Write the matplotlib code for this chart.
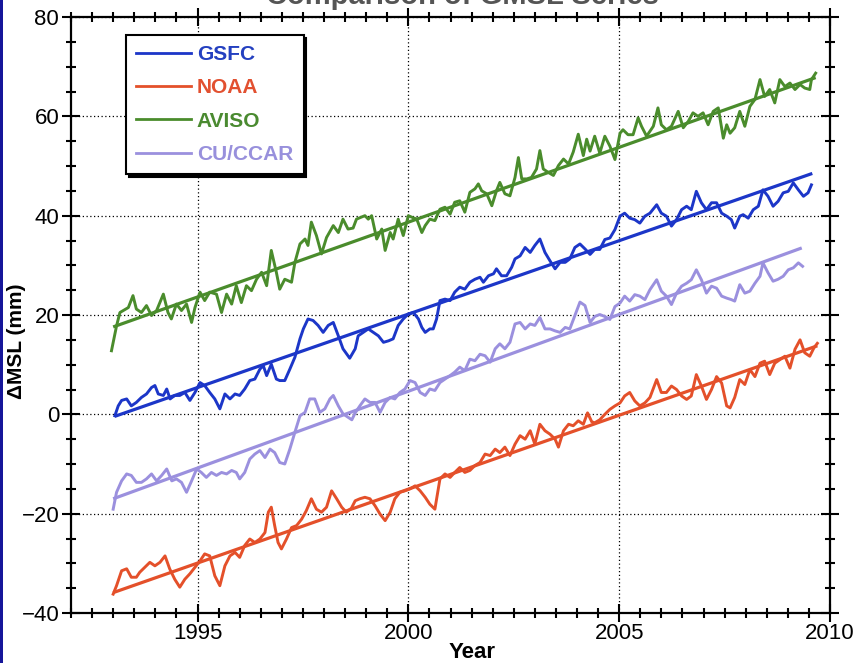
import matplotlib
matplotlib.use("Agg")
import matplotlib.pyplot as plt
from matplotlib.ticker import MultipleLocator
from matplotlib.patches import Rectangle

plt.rcParams['font.family'] = ['Liberation Sans', 'DejaVu Sans']

# ---------------- data ----------------
gsfc_year = [1993.04, 1993.12, 1993.2, 1993.32, 1993.43, 1993.55, 1993.67, 1993.79, 1993.91, 1993.99,
             1994.07, 1994.19, 1994.27, 1994.35, 1994.46, 1994.58, 1994.7, 1994.82, 1994.94, 1995.06,
             1995.17, 1995.29, 1995.41, 1995.53, 1995.65, 1995.77, 1995.89, 1996.0, 1996.12, 1996.24,
             1996.36, 1996.48, 1996.56, 1996.64, 1996.75, 1996.87, 1996.95, 1997.07, 1997.19, 1997.31,
             1997.43, 1997.51, 1997.62, 1997.74, 1997.86, 1997.98, 1998.1, 1998.22, 1998.34, 1998.45,
             1998.61, 1998.74, 1998.81, 1998.93, 1999.05, 1999.17, 1999.29, 1999.41, 1999.53, 1999.64,
             1999.76, 1999.88, 2000.0, 2000.12, 2000.24, 2000.32, 2000.4, 2000.51, 2000.59, 2000.67,
             2000.75, 2000.87, 2000.99, 2001.1, 2001.22, 2001.34, 2001.46, 2001.58, 2001.7, 2001.78,
             2001.9, 2002.02, 2002.09, 2002.21, 2002.33, 2002.45, 2002.53, 2002.65, 2002.77, 2002.89,
             2003.0, 2003.12, 2003.24, 2003.36, 2003.48, 2003.6, 2003.72, 2003.83, 2003.95, 2004.07,
             2004.19, 2004.31, 2004.42, 2004.54, 2004.66, 2004.78, 2004.9, 2005.02, 2005.13, 2005.25,
             2005.37, 2005.49, 2005.61, 2005.73, 2005.89, 2006.0, 2006.12, 2006.24, 2006.36, 2006.48,
             2006.6, 2006.71, 2006.83, 2006.95, 2007.07, 2007.19, 2007.31, 2007.43, 2007.55, 2007.66,
             2007.74, 2007.86, 2007.94, 2008.06, 2008.18, 2008.3, 2008.41, 2008.53, 2008.65, 2008.77,
             2008.89, 2009.01, 2009.13, 2009.25, 2009.37, 2009.48, 2009.56]
gsfc_msl = [-0.3, 1.7, 2.8, 3.1, 1.7, 2.4, 3.4, 4.1, 5.4, 5.8,
            4.1, 3.8, 5.1, 3.1, 3.8, 3.8, 4.4, 2.8, 4.4, 6.4,
            5.8, 4.4, 3.1, 1.1, 4.1, 3.1, 4.1, 3.8, 5.1, 6.8,
            7.1, 9.1, 9.8, 7.8, 10.1, 7.1, 6.8, 6.8, 9.1, 11.5,
            15.2, 17.2, 19.2, 18.9, 17.9, 16.5, 17.9, 18.5, 15.8, 13.2,
            11.3, 13.2, 15.8, 16.5, 17.2, 16.5, 15.8, 14.5, 14.8, 15.2,
            17.9, 19.2, 20.2, 20.5, 19.2, 17.5, 16.5, 17.2, 17.2, 19.2,
            22.9, 23.2, 22.9, 24.6, 25.6, 25.2, 26.6, 27.2, 27.6, 26.6,
            27.9, 28.3, 29.3, 27.9, 27.9, 29.6, 31.3, 31.9, 33.6, 32.6,
            34.0, 35.3, 32.6, 30.9, 29.3, 30.6, 30.6, 31.3, 33.6, 34.3,
            33.3, 32.2, 33.2, 33.2, 35.2, 35.5, 37.2, 39.9, 40.5, 39.5,
            39.2, 38.5, 39.9, 40.5, 42.2, 40.5, 39.9, 37.9, 39.2, 41.2,
            41.9, 41.2, 44.9, 42.6, 41.2, 42.6, 42.6, 40.5, 39.9, 39.2,
            37.5, 39.9, 40.2, 39.5, 41.2, 41.9, 45.2, 43.9, 41.9, 42.9,
            44.6, 44.9, 46.6, 45.2, 43.9, 44.6, 46.2]

noaa_year = [1993.0, 1993.08, 1993.2, 1993.32, 1993.43, 1993.55, 1993.63, 1993.75, 1993.87, 1993.99,
             1994.11, 1994.23, 1994.34, 1994.46, 1994.58, 1994.7, 1994.82, 1994.94, 1995.06, 1995.17,
             1995.29, 1995.41, 1995.53, 1995.65, 1995.77, 1995.89, 1996.0, 1996.12, 1996.24, 1996.36,
             1996.48, 1996.6, 1996.68, 1996.75, 1996.83, 1996.91, 1996.99, 1997.11, 1997.23, 1997.35,
             1997.47, 1997.58, 1997.7, 1997.82, 1997.94, 1998.06, 1998.18, 1998.3, 1998.42, 1998.53,
             1998.65, 1998.74, 1998.85, 1998.97, 1999.09, 1999.21, 1999.33, 1999.45, 1999.57, 1999.68,
             1999.8, 1999.92, 2000.04, 2000.16, 2000.28, 2000.4, 2000.51, 2000.63, 2000.75, 2000.87,
             2000.99, 2001.1, 2001.22, 2001.34, 2001.46, 2001.58, 2001.7, 2001.82, 2001.94, 2002.06,
             2002.17, 2002.29, 2002.41, 2002.53, 2002.65, 2002.77, 2002.89, 2003.0, 2003.12, 2003.24,
             2003.36, 2003.48, 2003.56, 2003.68, 2003.8, 2003.91, 2004.03, 2004.15, 2004.25, 2004.35,
             2004.42, 2004.54, 2004.66, 2004.78, 2004.9, 2005.02, 2005.13, 2005.25, 2005.37, 2005.49,
             2005.61, 2005.73, 2005.89, 2006.0, 2006.12, 2006.24, 2006.36, 2006.48, 2006.6, 2006.71,
             2006.83, 2006.95, 2007.07, 2007.19, 2007.31, 2007.43, 2007.55, 2007.63, 2007.74, 2007.86,
             2007.98, 2008.1, 2008.22, 2008.34, 2008.45, 2008.57, 2008.69, 2008.81, 2008.93, 2009.05,
             2009.17, 2009.29, 2009.4, 2009.52, 2009.62, 2009.7]
noaa_msl = [-36.2, -34.5, -31.5, -31.1, -32.8, -32.8, -31.8, -30.8, -29.8, -30.5,
            -29.8, -28.5, -31.1, -33.2, -34.8, -33.2, -32.1, -30.8, -29.5, -28.1,
            -28.5, -32.5, -34.5, -30.5, -28.5, -27.8, -28.8, -26.4, -25.1, -25.8,
            -25.1, -23.8, -19.7, -18.7, -22.4, -25.8, -27.1, -25.1, -22.8, -22.4,
            -21.1, -19.4, -17.0, -19.1, -19.7, -18.7, -15.4, -17.0, -18.7, -19.7,
            -18.9, -17.4, -17.0, -16.7, -17.0, -18.4, -20.1, -21.4, -19.7, -17.0,
            -15.7, -15.4, -15.0, -14.4, -15.4, -16.7, -18.1, -19.1, -13.0, -12.0,
            -12.7, -11.7, -10.7, -11.7, -11.3, -10.3, -9.7, -8.0, -8.3, -7.0,
            -7.7, -6.6, -8.3, -6.0, -4.3, -5.0, -3.3, -6.0, -2.0, -3.3,
            -4.0, -5.0, -6.6, -3.3, -2.0, -2.3, -1.3, -2.0, 0.3, -1.5,
            -1.7, -1.1, 0.0, 1.0, 1.7, 2.3, 3.7, 4.4, 2.7, 1.7,
            2.3, 3.4, 7.0, 4.4, 4.4, 5.7, 5.0, 3.7, 3.0, 3.7,
            8.0, 5.7, 3.0, 5.0, 7.6, 6.3, 1.7, 1.3, 3.4, 7.0,
            6.0, 9.0, 7.6, 10.3, 10.7, 8.0, 10.3, 11.0, 11.7, 9.3,
            13.1, 15.0, 12.4, 11.7, 13.4, 14.3]

aviso_year = [1992.96, 1993.08, 1993.16, 1993.36, 1993.47, 1993.55, 1993.67, 1993.79, 1993.91, 1994.03,
              1994.19, 1994.3, 1994.38, 1994.5, 1994.62, 1994.74, 1994.86, 1994.94, 1995.06, 1995.17,
              1995.29, 1995.45, 1995.57, 1995.69, 1995.81, 1995.92, 1996.04, 1996.16, 1996.28, 1996.4,
              1996.52, 1996.64, 1996.75, 1996.87, 1996.95, 1997.07, 1997.23, 1997.31, 1997.43, 1997.55,
              1997.62, 1997.7, 1997.82, 1997.94, 1998.06, 1998.22, 1998.34, 1998.45, 1998.57, 1998.69,
              1998.77, 1998.97, 1999.05, 1999.13, 1999.25, 1999.37, 1999.45, 1999.57, 1999.64, 1999.76,
              1999.88, 2000.0, 2000.08, 2000.2, 2000.32, 2000.4, 2000.51, 2000.63, 2000.75, 2000.87,
              2000.99, 2001.1, 2001.22, 2001.34, 2001.46, 2001.58, 2001.66, 2001.74, 2001.86, 2001.98,
              2002.09, 2002.17, 2002.29, 2002.41, 2002.53, 2002.61, 2002.69, 2002.81, 2002.92, 2003.04,
              2003.12, 2003.2, 2003.32, 2003.44, 2003.56, 2003.68, 2003.8, 2003.91, 2004.03, 2004.15,
              2004.23, 2004.31, 2004.42, 2004.54, 2004.66, 2004.78, 2004.9, 2005.02, 2005.09, 2005.21,
              2005.33, 2005.45, 2005.53, 2005.65, 2005.81, 2005.92, 2006.0, 2006.12, 2006.24, 2006.4,
              2006.52, 2006.64, 2006.75, 2006.87, 2006.99, 2007.11, 2007.23, 2007.35, 2007.47, 2007.55,
              2007.63, 2007.74, 2007.86, 2007.98, 2008.1, 2008.22, 2008.34, 2008.45, 2008.57, 2008.69,
              2008.81, 2008.93, 2009.05, 2009.17, 2009.29, 2009.4, 2009.52, 2009.56, 2009.66]
aviso_msl = [12.8, 17.8, 20.5, 21.5, 23.9, 21.2, 20.5, 21.9, 19.9, 20.9,
             24.2, 20.5, 19.2, 22.2, 20.9, 22.2, 18.5, 21.5, 24.6, 22.9,
             24.6, 24.2, 20.5, 24.2, 22.2, 25.9, 22.5, 25.9, 24.9, 27.2,
             28.6, 25.9, 33.0, 28.6, 25.2, 27.2, 26.6, 30.6, 34.3, 35.3,
             34.0, 38.7, 36.0, 32.3, 35.6, 38.0, 36.6, 39.3, 37.3, 37.5,
             39.3, 40.0, 39.3, 40.0, 35.3, 37.3, 33.0, 36.6, 35.3, 39.3,
             36.0, 40.0, 39.7, 39.3, 36.6, 38.0, 39.3, 39.0, 41.3, 41.7,
             40.3, 42.7, 43.0, 40.7, 44.7, 45.4, 46.4, 45.0, 44.4, 42.0,
             45.0, 46.7, 44.4, 44.0, 47.7, 51.7, 47.4, 47.4, 47.7, 49.4,
             53.1, 49.4, 48.7, 48.1, 50.1, 51.4, 50.4, 52.8, 56.4, 52.1,
             55.4, 53.0, 56.0, 52.6, 56.0, 54.0, 51.3, 56.6, 57.3, 56.3,
             56.3, 59.7, 58.0, 56.0, 58.0, 61.7, 58.3, 57.3, 58.0, 61.0,
             57.7, 59.0, 60.7, 60.0, 60.7, 58.3, 61.0, 61.7, 55.6, 58.3,
             56.6, 57.7, 61.0, 58.0, 62.0, 63.4, 67.4, 64.0, 65.4, 62.7,
             67.4, 66.0, 66.7, 65.4, 66.4, 65.7, 65.4, 67.4, 68.7]

cu_year = [1993.0, 1993.08, 1993.2, 1993.32, 1993.43, 1993.55, 1993.67, 1993.79, 1993.91, 1994.03,
           1994.15, 1994.27, 1994.39, 1994.5, 1994.62, 1994.74, 1994.86, 1994.98, 1995.09, 1995.21,
           1995.33, 1995.45, 1995.57, 1995.69, 1995.81, 1995.92, 1996.0, 1996.12, 1996.24, 1996.36,
           1996.48, 1996.6, 1996.72, 1996.83, 1996.95, 1997.07, 1997.19, 1997.31, 1997.43, 1997.55,
           1997.66, 1997.78, 1997.9, 1998.02, 1998.14, 1998.22, 1998.34, 1998.45, 1998.57, 1998.66,
           1998.74, 1998.85, 1998.97, 1999.09, 1999.21, 1999.33, 1999.45, 1999.57, 1999.68, 1999.8,
           1999.92, 2000.04, 2000.16, 2000.28, 2000.4, 2000.51, 2000.63, 2000.75, 2000.87, 2000.99,
           2001.1, 2001.22, 2001.34, 2001.46, 2001.58, 2001.7, 2001.82, 2001.94, 2002.06, 2002.17,
           2002.29, 2002.41, 2002.53, 2002.65, 2002.77, 2002.89, 2003.0, 2003.12, 2003.24, 2003.36,
           2003.48, 2003.6, 2003.72, 2003.83, 2003.95, 2004.07, 2004.19, 2004.31, 2004.42, 2004.54,
           2004.66, 2004.78, 2004.9, 2005.02, 2005.13, 2005.25, 2005.37, 2005.49, 2005.61, 2005.73,
           2005.89, 2006.0, 2006.12, 2006.24, 2006.36, 2006.48, 2006.6, 2006.71, 2006.83, 2006.95,
           2007.07, 2007.19, 2007.31, 2007.43, 2007.55, 2007.66, 2007.74, 2007.86, 2007.98, 2008.1,
           2008.22, 2008.34, 2008.41, 2008.53, 2008.65, 2008.77, 2008.89, 2009.01, 2009.13, 2009.25,
           2009.35]
cu_msl = [-19.1, -15.7, -13.4, -12.0, -12.3, -13.7, -13.7, -13.0, -12.0, -13.4,
          -12.3, -11.0, -13.4, -13.0, -13.7, -15.7, -13.4, -11.0, -11.7, -12.7,
          -11.7, -12.3, -11.7, -12.0, -11.3, -11.7, -13.0, -11.7, -9.0, -8.0,
          -7.3, -8.7, -7.0, -7.7, -9.7, -10.0, -7.0, -3.6, -0.3, 0.4,
          3.1, 3.1, 0.4, 1.1, 3.1, 3.8, 1.7, 0.1, -0.6, -1.1,
          0.3, 1.7, 3.1, 2.4, 2.4, 0.4, 2.4, 3.4, 3.1, 4.4,
          5.1, 6.8, 6.4, 4.4, 3.8, 5.1, 4.8, 6.4, 7.1, 7.8,
          8.5, 9.5, 8.8, 11.1, 10.8, 12.1, 11.8, 10.5, 13.2, 14.2,
          13.2, 14.5, 18.2, 18.5, 17.2, 18.2, 17.9, 19.5, 17.2, 17.2,
          16.8, 16.5, 17.5, 17.2, 19.9, 22.6, 21.9, 18.5, 19.7, 20.1,
          19.7, 19.1, 21.7, 22.4, 23.8, 22.8, 24.1, 23.8, 23.1, 25.1,
          27.1, 24.8, 23.8, 22.1, 24.4, 25.8, 26.4, 27.1, 29.1, 27.1,
          24.4, 25.8, 25.4, 23.8, 23.4, 23.1, 22.8, 26.1, 24.4, 24.8,
          26.4, 27.8, 30.5, 28.5, 26.8, 27.2, 27.8, 29.1, 29.5, 30.5,
          29.8]

# linear trend end points (year, mm)
gsfc_trend_year = [1993.04, 2009.58]
gsfc_trend_msl = [-0.4, 48.5]
noaa_trend_year = [1993.0, 2009.7]
noaa_trend_msl = [-35.9, 13.8]
aviso_trend_year = [1993.0, 2009.66]
aviso_trend_msl = [17.6, 67.8]
cu_trend_year = [1993.0, 2009.33]
cu_trend_msl = [-17.0, 33.5]

series_names = ['GSFC', 'NOAA', 'AVISO', 'CU/CCAR']
x_ticks = [1995, 2000, 2005, 2010]
y_ticks = [-40, -20, 0, 20, 40, 60, 80]

colors = {'GSFC': '#1c36c8', 'NOAA': '#e4502a', 'AVISO': '#4a8c2c', 'CU/CCAR': '#9b90de'}
text_colors = {'GSFC': '#2440c0', 'NOAA': '#e25030', 'AVISO': '#4a8a30', 'CU/CCAR': '#9890dc'}

# ---------------- figure ----------------
fig = plt.figure(figsize=(8.56, 6.63), dpi=100)
ax = fig.add_axes([71 / 856, 50 / 663, 759 / 856, 596 / 663])

data = {
    'GSFC': (gsfc_year, gsfc_msl, gsfc_trend_year, gsfc_trend_msl),
    'NOAA': (noaa_year, noaa_msl, noaa_trend_year, noaa_trend_msl),
    'AVISO': (aviso_year, aviso_msl, aviso_trend_year, aviso_trend_msl),
    'CU/CCAR': (cu_year, cu_msl, cu_trend_year, cu_trend_msl),
}

handles = []
for name in series_names:
    yr, v, tyr, tv = data[name]
    h, = ax.plot(yr, v, color=colors[name], lw=2.1, solid_joinstyle='round', zorder=3, label=name)
    ax.plot(tyr, tv, color=colors[name], lw=2.3, solid_capstyle='butt', zorder=4)
    handles.append(h)

ax.set_xlim(1992, 2010)
ax.set_ylim(-40, 80)
ax.set_xticks(x_ticks)
ax.set_yticks(y_ticks)
ax.xaxis.set_minor_locator(MultipleLocator(0.5))
ax.yaxis.set_minor_locator(MultipleLocator(5))
ax.tick_params(which='both', direction='inout', top=True, right=True, color='black', width=1.5)
ax.tick_params(which='major', length=13, labelsize=16, pad=2)
ax.tick_params(which='minor', length=6.5)
ax.tick_params(axis='x', which='major', pad=1)
for s in ax.spines.values():
    s.set_linewidth(1.6)

ax.grid(True, which='major', color='black', linestyle=(0, (1, 2)), linewidth=0.9)
ax.set_axisbelow(True)

ax.set_xlabel('Year', fontsize=16, fontweight='bold')
ax.xaxis.set_label_coords(0.528, -0.048)
ax.set_ylabel('\u0394MSL (mm)', fontsize=15, fontweight='bold')
ax.yaxis.set_label_coords(-0.059, 0.456)

leg = ax.legend(handles=handles, labels=series_names, loc='upper left',
                bbox_to_anchor=(0.0725, 0.970), borderaxespad=0,
                frameon=True, fancybox=False, edgecolor='black', framealpha=1,
                shadow={'color': 'black', 'alpha': 1.0},
                handlelength=2.6, handletextpad=0.3, labelspacing=0.68,
                borderpad=0.5, prop={'size': 15, 'weight': 'bold'})
leg.get_frame().set_linewidth(1.5)
for t, name in zip(leg.get_texts(), series_names):
    t.set_color(text_colors[name])
for lh in leg.get_lines():
    lh.set_linewidth(2.0)
leg.set_zorder(10)

# title, partially cut off at the top in the reference
fig.text(0.54, 1 - 4 / 663, 'Comparison of GMSL Series', ha='center', va='baseline',
         fontsize=21, fontweight='bold', color='#555555')

# blue strip on the left edge
fig.patches.append(Rectangle((0, 0), 3 / 856, 1, transform=fig.transFigure,
                             facecolor='#16169a', edgecolor='none', zorder=20))

fig.savefig('out.png', dpi=100)
